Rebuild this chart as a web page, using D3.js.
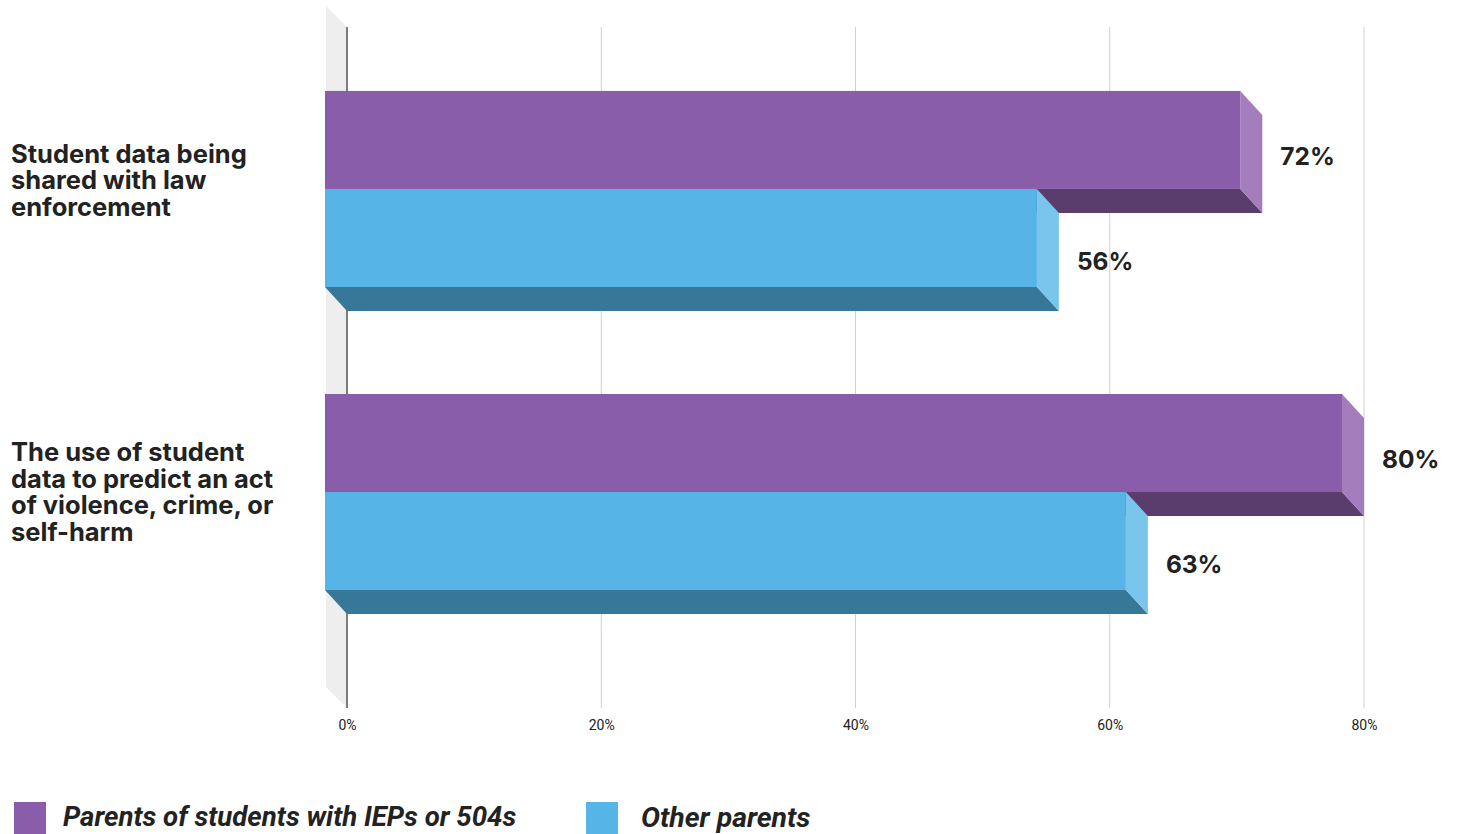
<!DOCTYPE html>
<html>
<head>
<meta charset="utf-8">
<script src="https://cdn.jsdelivr.net/npm/d3@7"></script>
<style>
  html, body { margin: 0; padding: 0; background: #fff; }
  svg { display: block; }
</style>
</head>
<body>
<svg id="chart" width="1458" height="834"></svg>
<script>
// Survey categories (each label split into display lines)
const categories = [
  "Student data being shared with law enforcement",
  "The use of student data to predict an act of violence, crime, or self-harm"
];
const categoryLines = [
  ["Student data being", "shared with law", "enforcement"],
  ["The use of student", "data to predict an act", "of violence, crime, or", "self-harm"]
];
const seriesNames = ["Parents of students with IEPs or 504s", "Other parents"];
const iepValues = [72, 80];
const otherValues = [56, 63];
const tickValues = [0, 20, 40, 60, 80];

const palette = {
  [seriesNames[0]]: { front: "#8a5daa", side: "#a47dbd", bottom: "#5a3c6d" },
  [seriesNames[1]]: { front: "#56b4e6", side: "#7ac5ec", bottom: "#377798" }
};

const svg = d3.select("#chart");
const font = "Inter, Roboto, 'Liberation Sans', Arial, sans-serif";

// Depth of the pseudo-3D extrusion
const DX = 22, DY = 24;

// x scale is on the back plane (where the grid lives)
const x = d3.scaleLinear().domain([0, 80]).range([347, 1364]);
const gridTop = 27, gridBottom = 708;

// y bands are on the front plane
const y = d3.scaleBand()
  .domain(categories)
  .range([gridTop - 21, gridBottom - 21])
  .paddingInner(0.353)
  .paddingOuter(0.30)
  .align(0.467);
const ySeries = d3.scaleBand().domain(seriesNames).range([0, y.bandwidth()]);

// Left back wall
const x0 = x(0);
svg.append("polygon")
  .attr("points", [[x0 - 21, gridTop - 21], [x0, gridTop], [x0, gridBottom], [x0 - 21, gridBottom - 21]].join(" "))
  .attr("fill", "#eeeeee");

// Vertical gridlines
svg.append("g").selectAll("line")
  .data(tickValues.filter(d => d > 0))
  .join("line")
  .attr("x1", d => x(d)).attr("x2", d => x(d))
  .attr("y1", gridTop).attr("y2", gridBottom)
  .attr("stroke", "#d0d0d0").attr("stroke-width", 1);

// Value axis (tick labels only)
const axis = svg.append("g")
  .attr("transform", `translate(0,${gridBottom + 6})`)
  .call(d3.axisBottom(x).tickValues(tickValues).tickFormat(d => d + "%").tickSize(0).tickPadding(6));
axis.select(".domain").remove();
axis.selectAll("text").attr("font-family", "Roboto, 'Liberation Sans', sans-serif").attr("font-size", 14).attr("fill", "#222");

// Baseline
svg.append("line")
  .attr("x1", x0).attr("x2", x0).attr("y1", gridTop).attr("y2", gridBottom)
  .attr("stroke", "#555").attr("stroke-width", 1.5);

// Bars
const rows = [];
categories.forEach((c, i) => {
  rows.push({ cat: c, series: seriesNames[0], value: iepValues[i], labelDrop: 18 });
  rows.push({ cat: c, series: seriesNames[1], value: otherValues[i], labelDrop: 25 });
});

const bars = svg.append("g").selectAll("g").data(rows).join("g");
bars.each(function(d) {
  const g = d3.select(this);
  const col = palette[d.series];
  const fx0 = x(0) - DX, fx1 = x(d.value) - DX;
  const fy0 = y(d.cat) + ySeries(d.series), fy1 = fy0 + ySeries.bandwidth();
  // bottom face
  g.append("polygon")
    .attr("points", [[fx0, fy1], [fx1, fy1], [fx1 + DX, fy1 + DY], [fx0 + DX, fy1 + DY]].join(" "))
    .attr("fill", col.bottom);
  // right side face
  g.append("polygon")
    .attr("points", [[fx1, fy0], [fx1 + DX, fy0 + DY], [fx1 + DX, fy1 + DY], [fx1, fy1]].join(" "))
    .attr("fill", col.side);
  // front face
  g.append("rect")
    .attr("x", fx0).attr("y", fy0)
    .attr("width", fx1 - fx0).attr("height", fy1 - fy0)
    .attr("fill", col.front);
  // value label
  g.append("text")
    .attr("x", x(d.value) + 18)
    .attr("y", (fy0 + fy1) / 2 + d.labelDrop)
    .attr("dominant-baseline", "middle")
    .attr("font-family", font).attr("font-weight", 700).attr("font-size", 24.5)
    .attr("fill", "#222")
    .text(d.value + "%");
});

// Category labels
const labelNudge = [-6.5, 2];
categories.forEach((c, i) => {
  const lines = categoryLines[i];
  const lh = 26.5;
  const cy = y(c) + y.bandwidth() / 2 + labelNudge[i];
  const t = svg.append("text")
    .attr("font-family", font).attr("font-weight", 700).attr("font-size", 25.5)
    .attr("fill", "#222");
  lines.forEach((ln, j) => {
    t.append("tspan")
      .attr("x", 11)
      .attr("y", cy + (j - (lines.length - 1) / 2) * lh)
      .attr("dominant-baseline", "middle")
      .text(ln);
  });
});

// Legend
const legendItems = [
  { name: seriesNames[0], x: 14, tx: 49, size: 27.6 },
  { name: seriesNames[1], x: 586, tx: 55, size: 28.4 }
];
const lg = svg.append("g").selectAll("g").data(legendItems).join("g")
  .attr("transform", d => `translate(${d.x},802)`);
lg.append("rect").attr("width", 32).attr("height", 32)
  .attr("fill", d => palette[d.name].front);
lg.append("text")
  .attr("x", d => d.tx).attr("y", 17)
  .attr("dominant-baseline", "middle")
  .attr("font-family", "'Liberation Sans Narrow', 'Arial Narrow', Roboto, sans-serif")
  .attr("font-weight", 700).attr("font-style", "italic").attr("font-size", d => d.size)
  .attr("fill", "#222")
  .text(d => d.name);
</script>
</body>
</html>
